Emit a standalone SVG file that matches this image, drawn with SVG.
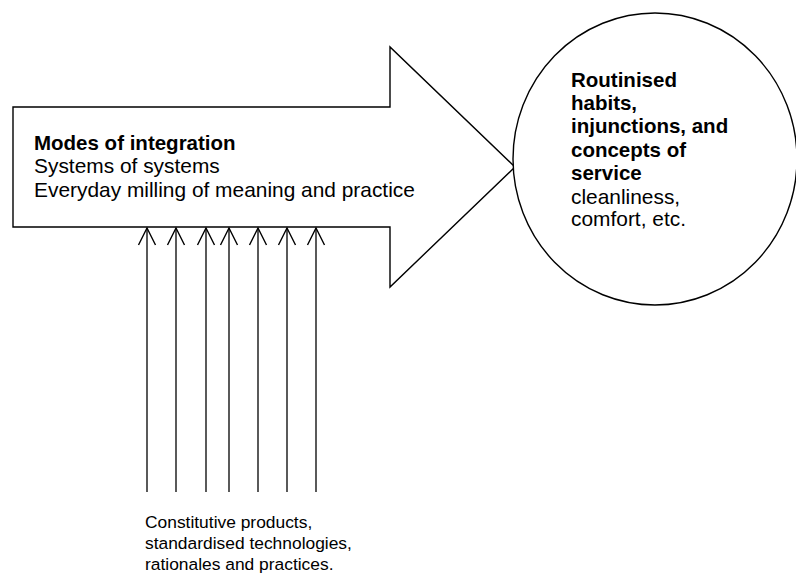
<svg xmlns="http://www.w3.org/2000/svg" width="796" height="579" viewBox="0 0 796 579">
<style>
.shape{fill:#fff;stroke:#000;stroke-width:1.4}
.t{font-family:"Liberation Sans",Arial,sans-serif;fill:#000}
.b{font-weight:bold;font-size:20.5px}
.r{font-size:20.9px}
.small{font-size:17.4px}
.con{stroke:#000;stroke-width:1.3;fill:none}
</style>
<defs>
<marker id="open" markerUnits="userSpaceOnUse" markerWidth="20" markerHeight="20" refX="0" refY="0" orient="auto" viewBox="-20 -10 20 20" overflow="visible">
<path d="M-17,-8.5 L0,0 L-17,8.5" fill="none" stroke="#000" stroke-width="1.4"/>
</marker>
</defs>
<rect width="796" height="579" fill="#fff"/>
<g id="integration">
<path class="shape" d="M13,107 L390,107 L390,47 L515,167 L390,287 L390,227 L13,227 Z"/>
<text class="t b" x="34" y="150">Modes of integration</text>
<text class="t r" x="34" y="173">Systems of systems</text>
<text class="t r" x="34" y="197">Everyday milling of meaning and practice</text>
</g>
<g id="service">
<ellipse class="shape" cx="655" cy="159" rx="142" ry="146"/>
<text class="t b" x="571" y="87">Routinised</text>
<text class="t b" x="571" y="110">habits,</text>
<text class="t b" x="571" y="133">injunctions, and</text>
<text class="t b" x="571" y="157">concepts of</text>
<text class="t b" x="571" y="180">service</text>
<text class="t r" x="571" y="204">cleanliness,</text>
<text class="t r" x="571" y="226">comfort, etc.</text>
</g>
<g id="inputs">
<text class="t small" x="145" y="528">Constitutive products,</text>
<text class="t small" x="145" y="549">standardised technologies,</text>
<text class="t small" x="145" y="570">rationales and practices.</text>
</g>
<g id="connectors">
<line class="con" x1="147" y1="492" x2="147" y2="228" marker-end="url(#open)"/>
<line class="con" x1="176" y1="492" x2="176" y2="228" marker-end="url(#open)"/>
<line class="con" x1="206" y1="492" x2="206" y2="228" marker-end="url(#open)"/>
<line class="con" x1="229" y1="492" x2="229" y2="228" marker-end="url(#open)"/>
<line class="con" x1="258" y1="492" x2="258" y2="228" marker-end="url(#open)"/>
<line class="con" x1="287" y1="492" x2="287" y2="228" marker-end="url(#open)"/>
<line class="con" x1="316" y1="492" x2="316" y2="228" marker-end="url(#open)"/>
</g>
</svg>
